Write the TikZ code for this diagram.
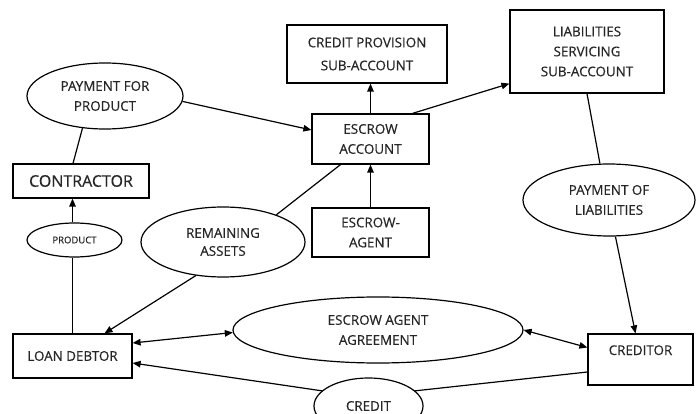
\documentclass[tikz,border=0pt]{standalone}
\usepackage{fontspec}
\setmainfont[FakeBold=0.4]{Open Sans}
\usetikzlibrary{arrows.meta,shapes.geometric,calc}
\begin{document}
\begin{tikzpicture}[x=1pt,y=-1pt,
  every node/.style={text=black!85, font=\fontsize{13.4}{20}\selectfont, align=center, inner sep=0pt},
  box/.style={draw=black, line width=1.2pt, rectangle},
  oval/.style={draw=black, line width=1.2pt, ellipse},
  conn/.style={line width=1.2pt, draw=black},
  arr/.style={conn, -{Triangle[length=8pt,width=6.5pt]}},
  darr/.style={conn, {Triangle[length=8pt,width=6.5pt]}-{Triangle[length=8pt,width=6.5pt]}}
]
\fill[white] (0,0) rectangle (696,414);
\useasboundingbox (0,0) rectangle (696,414);

\node[box, minimum width=160pt, minimum height=58pt] (cp) at (367,54) {CREDIT PROVISION\\[3pt]SUB-ACCOUNT};
\node[box, minimum width=154pt, minimum height=83pt] (lia) at (587,51.5) {LIABILITIES\\SERVICING\\SUB-ACCOUNT};
\node[oval, minimum width=156pt, minimum height=66pt] (pfp) at (105,96) {PAYMENT FOR\\PRODUCT};
\node[box, minimum width=117pt, minimum height=50pt] (esc) at (370.5,139) {ESCROW\\ACCOUNT};
\node[box, minimum width=136pt, minimum height=34pt, font=\fontsize{16}{20}\selectfont] (con) at (81,181) {CONTRACTOR};
\node[box, minimum width=117pt, minimum height=49pt] (ea) at (370.5,232.5) {ESCROW-\\AGENT};
\node[oval, minimum width=95pt, minimum height=34pt, font=\fontsize{9.5}{12}\selectfont] (prod) at (74.5,240) {PRODUCT};
\node[oval, minimum width=164pt, minimum height=70pt, font=\fontsize{13.4}{18}\selectfont] (ra) at (223,242) {REMAINING\\ASSETS};
\node[oval, minimum width=172pt, minimum height=72pt] (pol) at (609,200) {PAYMENT OF\\LIABILITIES};
\node[box, minimum width=119pt, minimum height=44pt] (ld) at (72.5,356) {LOAN DEBTOR};
\node[oval, minimum width=290pt, minimum height=66pt] (agr) at (378,330) {ESCROW AGENT\\AGREEMENT};
\node[box, minimum width=105pt, minimum height=51pt] (crd) at (640.5,359.5) {\raisebox{4.5pt}[0pt][0pt]{CREDITOR}};
\node[oval, minimum width=109pt, minimum height=56pt] (cr) at (368.5,406) {CREDIT};

\draw[arr] (pfp.-4) -- ($(esc.west)+(0,-9)$);
\draw[conn] (pfp.235) -- ($(con.north)+(-8,0)$);
\draw[conn] (ld.north) -- (ld.north |- prod.south);
\draw[arr] (ld.north |- prod.north) -- (ld.north |- con.south);
\draw[conn] ($(esc.south)+(-30,0)$) -- (ra.27);
\draw[arr] (ra.231) -- ($(ld.north)+(32,0)$);
\draw[darr] ($(ld.east)+(0,-13)$) -- (agr.181);
\draw[arr] (cr.162) -- ($(ld.east)+(0,7)$);
\draw[darr] (agr.east) -- ($(crd.west)+(0,-12)$);
\draw[conn] ($(crd.west)+(0,12.5)$) -- (cr.18);
\draw[conn] (lia.south) -- (pol.104);
\draw[arr] (pol.-80) -- ($(crd.north)+(-5,0)$);
\draw[arr] ($(esc.north)+(42,0)$) -- ($(lia.south west)+(0,-10)$);
\draw[arr] (esc.north) -- (esc.north |- cp.south);
\draw[arr] (ea.north) -- (esc.south);
\end{tikzpicture}
\end{document}
